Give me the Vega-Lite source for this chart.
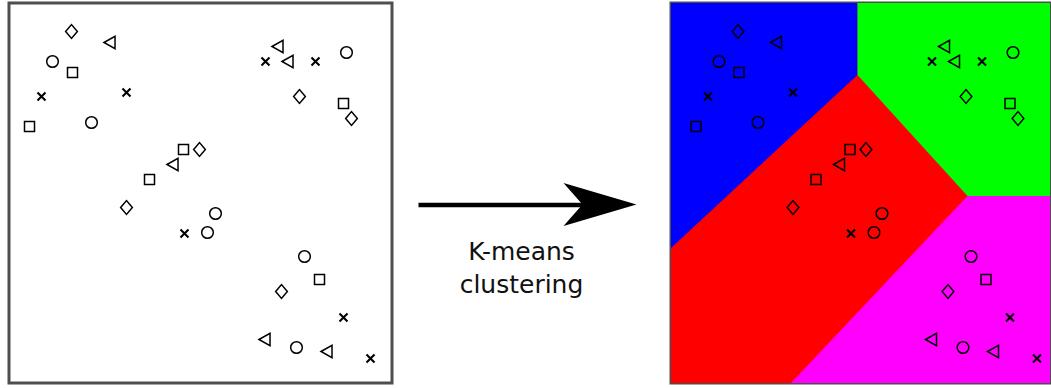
{
  "$schema": "https://vega.github.io/schema/vega-lite/v6.json",
  "background": "white",
  "padding": {"left": 7, "top": 1, "right": 0, "bottom": 0},
  "autosize": {"type": "pad"},
  "spacing": 0,
  "config": {"view": {"stroke": null}},
  "datasets": {
    "points": [
      {"kind": "diamond", "x": 62.5, "y": 28.5},
      {"kind": "diamond", "x": 290.5, "y": 93.5},
      {"kind": "diamond", "x": 342.5, "y": 115.5},
      {"kind": "diamond", "x": 190.5, "y": 146.5},
      {"kind": "diamond", "x": 117.5, "y": 204.5},
      {"kind": "diamond", "x": 272.5, "y": 288.5},
      {"kind": "triangle", "x": 100.5, "y": 39.5},
      {"kind": "triangle", "x": 268.5, "y": 43.5},
      {"kind": "triangle", "x": 278.5, "y": 58.5},
      {"kind": "triangle", "x": 163.5, "y": 161.5},
      {"kind": "triangle", "x": 255.5, "y": 336.5},
      {"kind": "triangle", "x": 317.5, "y": 348.5},
      {"kind": "circle", "x": 43.5, "y": 58.5},
      {"kind": "circle", "x": 82.5, "y": 119.5},
      {"kind": "circle", "x": 337.5, "y": 49.5},
      {"kind": "circle", "x": 206.5, "y": 210.5},
      {"kind": "circle", "x": 198.5, "y": 229.5},
      {"kind": "circle", "x": 295.5, "y": 253.5},
      {"kind": "circle", "x": 287.5, "y": 344.5},
      {"kind": "square", "x": 63.5, "y": 69.5},
      {"kind": "square", "x": 20.5, "y": 123.5},
      {"kind": "square", "x": 334.5, "y": 100.5},
      {"kind": "square", "x": 174.5, "y": 146.5},
      {"kind": "square", "x": 140.5, "y": 176.5},
      {"kind": "square", "x": 310.5, "y": 276.5},
      {"kind": "cross", "x": 32.5, "y": 93.5},
      {"kind": "cross", "x": 117.5, "y": 89.5},
      {"kind": "cross", "x": 256.5, "y": 58.5},
      {"kind": "cross", "x": 306.5, "y": 58.5},
      {"kind": "cross", "x": 175.5, "y": 230.5},
      {"kind": "cross", "x": 334.5, "y": 314.5},
      {"kind": "cross", "x": 361.5, "y": 355.5}
    ],
    "background": [
      {"region": "red", "x0": -4.5, "x1": 374.5, "y0": 0, "y1": 380}
    ],
    "regions": [
      {"region": "blue", "x": -4.5, "top": 0, "bottom": 245},
      {"region": "blue", "x": 182, "top": 0, "bottom": 72},
      {"region": "green", "x": 182, "top": 0, "bottom": 72},
      {"region": "green", "x": 292, "top": 0, "bottom": 193},
      {"region": "green", "x": 374.5, "top": 0, "bottom": 193},
      {"region": "magenta", "x": 115.5, "top": 380, "bottom": 380},
      {"region": "magenta", "x": 292, "top": 380, "bottom": 193},
      {"region": "magenta", "x": 374.5, "top": 380, "bottom": 193}
    ],
    "arrow": [
      {"x0": 24.5, "x1": 191, "y": 202, "hx": 206, "hy": 201.5}
    ],
    "labels": [
      {"label": "K-means", "x": 127.5, "y": 256.5},
      {"label": "clustering", "x": 127.5, "y": 289.5}
    ]
  },
  "resolve": {"scale": {"x": "independent", "y": "independent"}},
  "hconcat": [
    {
      "width": 383,
      "height": 380,
      "view": {"stroke": "#4d4f4f", "strokeWidth": 3},
      "data": {"name": "points"},
      "mark": {"type": "point", "filled": false, "color": "black", "opacity": 1},
      "encoding": {
        "x": {"field": "x", "type": "quantitative", "axis": null, "scale": {"domain": [0, 383], "nice": false, "zero": false}},
        "y": {"field": "y", "type": "quantitative", "axis": null, "scale": {"domain": [0, 380], "nice": false, "zero": false, "reverse": true}},
        "shape": {"field": "kind", "type": "nominal", "legend": null, "scale": {"domain": ["circle", "square", "diamond", "triangle", "cross"], "range": ["circle", "square", "M-0.85,0L0,-1L0.85,0L0,1Z", "M-0.9,0L0.9,-1L0.9,1Z", "M-1,-1L1,1M-1,1L1,-1"]}},
        "size": {"field": "kind", "type": "nominal", "legend": null, "scale": {"type": "ordinal", "domain": ["circle", "square", "diamond", "triangle", "cross"], "range": [135, 100, 190, 150, 64]}},
        "strokeWidth": {"field": "kind", "type": "nominal", "legend": null, "scale": {"type": "ordinal", "domain": ["circle", "square", "diamond", "triangle", "cross"], "range": [1.5, 1.5, 1.5, 1.5, 2.1]}}
      }
    },
    {
      "width": 274.5,
      "height": 380,
      "view": {"stroke": null},
      "layer": [
        {
          "data": {"name": "arrow"},
          "mark": {"type": "rule", "color": "black", "strokeWidth": 4.5},
          "encoding": {
            "x": {"field": "x0", "type": "quantitative", "axis": null, "scale": {"domain": [0, 274.5], "nice": false, "zero": false}},
            "x2": {"field": "x1"},
            "y": {"field": "y", "type": "quantitative", "axis": null, "scale": {"domain": [0, 380], "nice": false, "zero": false, "reverse": true}}
          }
        },
        {
          "data": {"name": "arrow"},
          "mark": {"type": "point", "filled": true, "color": "black", "opacity": 1, "size": 5329, "shape": "M1,0L-1,-0.59L-0.48,0L-1,0.59Z", "strokeWidth": 0},
          "encoding": {
            "x": {"field": "hx", "type": "quantitative", "axis": null},
            "y": {"field": "hy", "type": "quantitative", "axis": null}
          }
        },
        {
          "data": {"name": "labels"},
          "mark": {"type": "text", "font": "DejaVu Sans", "fontSize": 25, "align": "center", "baseline": "alphabetic", "color": "#111111"},
          "encoding": {
            "x": {"field": "x", "type": "quantitative", "axis": null},
            "y": {"field": "y", "type": "quantitative", "axis": null},
            "text": {"field": "label", "type": "nominal"}
          }
        }
      ]
    },
    {
      "width": 379,
      "height": 380,
      "view": {"stroke": "#4d4f4f", "strokeWidth": 3},
      "layer": [
        {
          "data": {"name": "background"},
          "mark": {"type": "rect"},
          "encoding": {
            "x": {"field": "x0", "type": "quantitative", "axis": null, "scale": {"domain": [-4.5, 374.5], "nice": false, "zero": false}},
            "x2": {"field": "x1"},
            "y": {"field": "y0", "type": "quantitative", "axis": null, "scale": {"domain": [0, 380], "nice": false, "zero": false, "reverse": true}},
            "y2": {"field": "y1"},
            "color": {"field": "region", "type": "nominal", "legend": null, "scale": {"domain": ["red", "blue", "green", "magenta"], "range": ["#ff0000", "#0000ff", "#00ff00", "#ff00ff"]}}
          }
        },
        {
          "data": {"name": "regions"},
          "mark": {"type": "area", "opacity": 1, "interpolate": "linear"},
          "encoding": {
            "x": {"field": "x", "type": "quantitative", "axis": null},
            "y": {"field": "top", "type": "quantitative", "axis": null, "stack": null},
            "y2": {"field": "bottom"},
            "color": {"field": "region", "type": "nominal", "legend": null}
          }
        },
        {
          "data": {"name": "points"},
          "mark": {"type": "point", "filled": false, "color": "black", "opacity": 1},
          "encoding": {
            "x": {"field": "x", "type": "quantitative", "axis": null},
            "y": {"field": "y", "type": "quantitative", "axis": null},
            "shape": {"field": "kind", "type": "nominal", "legend": null, "scale": {"domain": ["circle", "square", "diamond", "triangle", "cross"], "range": ["circle", "square", "M-0.85,0L0,-1L0.85,0L0,1Z", "M-0.9,0L0.9,-1L0.9,1Z", "M-1,-1L1,1M-1,1L1,-1"]}},
            "size": {"field": "kind", "type": "nominal", "legend": null, "scale": {"type": "ordinal", "domain": ["circle", "square", "diamond", "triangle", "cross"], "range": [135, 100, 190, 150, 64]}},
            "strokeWidth": {"field": "kind", "type": "nominal", "legend": null, "scale": {"type": "ordinal", "domain": ["circle", "square", "diamond", "triangle", "cross"], "range": [1.5, 1.5, 1.5, 1.5, 2.1]}}
          }
        }
      ]
    }
  ]
}
